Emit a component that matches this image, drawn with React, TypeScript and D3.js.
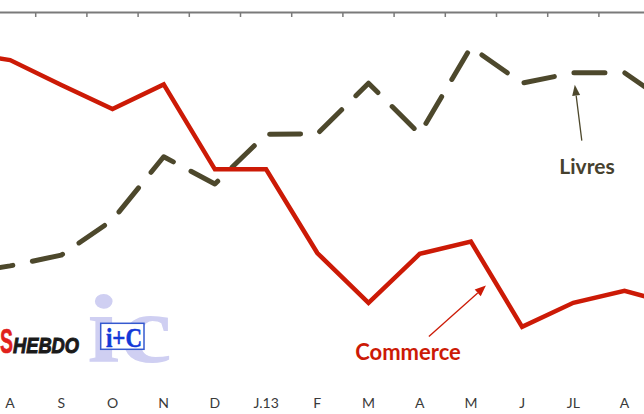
import React from "react";
import * as d3 from "d3";

// visible months (category axis)
const months = ["A", "S", "O", "N", "D", "J.13", "F", "M", "A", "M", "J", "JL", "A"];
// one extra value before and after the visible window: the lines run off the edges
const commerce = [96, 93.3, 85, 77, 85.2, 56.9, 56.9, 29, 12.4, 28.7, 32.8, 4.4, 12.4, 16.4, 11.7];
const livres = [22, 24.7, 28.3, 40, 61.1, 52, 68.6, 68.7, 85.6, 68.7, 97.6, 85.6, 89.1, 89.1, 77.3];

const W = 644;
const H = 414;
const RED = "#cc1a06";
const OLIVE = "#4d482c";
const FONT = "Lato, 'Open Sans', sans-serif";
const DASH = 31;
const GAP = 20;

function arrow(x1: number, y1: number, x2: number, y2: number, len: number, half: number) {
  const a = Math.atan2(y2 - y1, x2 - x1);
  const bx = x2 - len * Math.cos(a);
  const by = y2 - len * Math.sin(a);
  const px = -Math.sin(a) * half;
  const py = Math.cos(a) * half;
  return {
    line: [bx, by],
    head: `${x2},${y2} ${bx + px},${by + py} ${bx - px},${by - py}`,
  };
}

const App: React.FC = () => {
  const x = d3.scaleLinear().domain([-0.5, months.length - 0.5]).range([-15.5, 650.1]);
  const y = d3.scaleLinear().domain([0, 100]).range([340, 40]);
  const step = x(1) - x(0);

  const line = d3
    .line<number>()
    .x((_, i) => x(i - 1))
    .y((d) => y(d));

  const ticks = d3.range(0, months.length).map((i) => x(i + 0.5));

  // line length up to the J.13 point, used to put a dash start just after it
  const pts = livres.map((d, i) => [x(i - 1), y(d)]);
  let upTo = 0;
  for (let i = 1; i <= 6; i++) {
    upTo += Math.hypot(pts[i][0] - pts[i - 1][0], pts[i][1] - pts[i - 1][1]);
  }
  const dashOffset = -((upTo + 3.5) % (DASH + GAP));

  // Livres arrow points up at the dashed line near JL
  const lTipX = x(11) + 1.5;
  const lTipY = y(livres[12]) + 12;
  const lArrow = arrow(lTipX + 7, lTipY + 56, lTipX, lTipY, 11, 4);

  // Commerce arrow points at the red line between M and J
  const cTipX = x(9) + 15;
  const cTipY = y(d3.interpolateNumber(commerce[10], commerce[11])(15 / step)) + 19;
  const cArrow = arrow(cTipX - 57, cTipY + 51, cTipX, cTipY, 11, 4.5);

  return (
    <svg
      width={W}
      height={H}
      style={{ position: "absolute", left: 0, top: 0, background: "#fff" }}
    >
      {/* top axis */}
      <line x1={0} x2={W} y1={12.5} y2={12.5} stroke="#7a7a7a" strokeWidth={2} />
      {ticks.map((t, i) => (
        <line key={i} x1={t} x2={t} y1={12.5} y2={17} stroke="#7a7a7a" strokeWidth={1.5} />
      ))}

      {/* logo */}
      <g>
        <text
          x={87}
          y={362}
          fontFamily="'Liberation Serif', serif"
          fontWeight="bold"
          fontSize={98}
          fill="#cfcff2"
          textLength={85}
          lengthAdjust="spacingAndGlyphs"
        >
          ic
        </text>
        <rect x={100.7} y={323.3} width={43.3} height={26} fill="#fff" stroke="#3559cf" strokeWidth={1.5} />
        <text
          x={106}
          y={347}
          fontFamily="'Liberation Serif', serif"
          fontWeight="bold"
          fontSize={28}
          fill="#1238d8"
          stroke="#1238d8"
          strokeWidth={0.5}
          textLength={36}
          lengthAdjust="spacingAndGlyphs"
        >
          i+C
        </text>
        <text
          x={0}
          y={353}
          fontFamily="'Liberation Sans', Arial, sans-serif"
          fontWeight="bold"
          fontSize={35}
          fill="#e0211c"
          stroke="#e0211c"
          strokeWidth={0.6}
          textLength={13}
          lengthAdjust="spacingAndGlyphs"
        >
          S
        </text>
        <text
          x={13}
          y={352.7}
          fontFamily="'Liberation Sans', Arial, sans-serif"
          fontWeight="bold"
          fontStyle="italic"
          fontSize={22.5}
          fill="#1a1a1a"
          stroke="#1a1a1a"
          strokeWidth={1}
          textLength={66}
          lengthAdjust="spacingAndGlyphs"
        >
          HEBDO
        </text>
      </g>

      {/* series */}
      <path
        d={line(livres) ?? ""}
        fill="none"
        stroke={OLIVE}
        strokeWidth={5}
        strokeDasharray={`${DASH} ${GAP}`}
        strokeDashoffset={dashOffset}
        strokeLinecap="round"
        strokeLinejoin="round"
      />
      <path
        d={line(commerce) ?? ""}
        fill="none"
        stroke={RED}
        strokeWidth={4.5}
        strokeLinejoin="miter"
      />

      {/* annotations */}
      <line
        x1={lTipX + 7}
        y1={lTipY + 56}
        x2={lArrow.line[0]}
        y2={lArrow.line[1]}
        stroke={OLIVE}
        strokeWidth={1.3}
      />
      <polygon points={lArrow.head} fill={OLIVE} />
      <text
        x={587}
        y={174}
        textAnchor="middle"
        fontFamily={FONT}
        fontWeight="bold"
        fontSize={21}
        fill="#46412e"
      >
        Livres
      </text>

      <line
        x1={cTipX - 57}
        y1={cTipY + 51}
        x2={cArrow.line[0]}
        y2={cArrow.line[1]}
        stroke={RED}
        strokeWidth={1.3}
      />
      <polygon points={cArrow.head} fill={RED} />
      <text
        x={408}
        y={360}
        textAnchor="middle"
        fontFamily={FONT}
        fontWeight="bold"
        fontSize={22}
        fill={RED}
      >
        Commerce
      </text>

      {/* month labels */}
      {months.map((m, i) => (
        <text
          key={i}
          x={x(i)}
          y={408}
          textAnchor="middle"
          fontFamily={FONT}
          fontSize={14}
          fill="#3a3a3a"
        >
          {m}
        </text>
      ))}
    </svg>
  );
};

export default App;
